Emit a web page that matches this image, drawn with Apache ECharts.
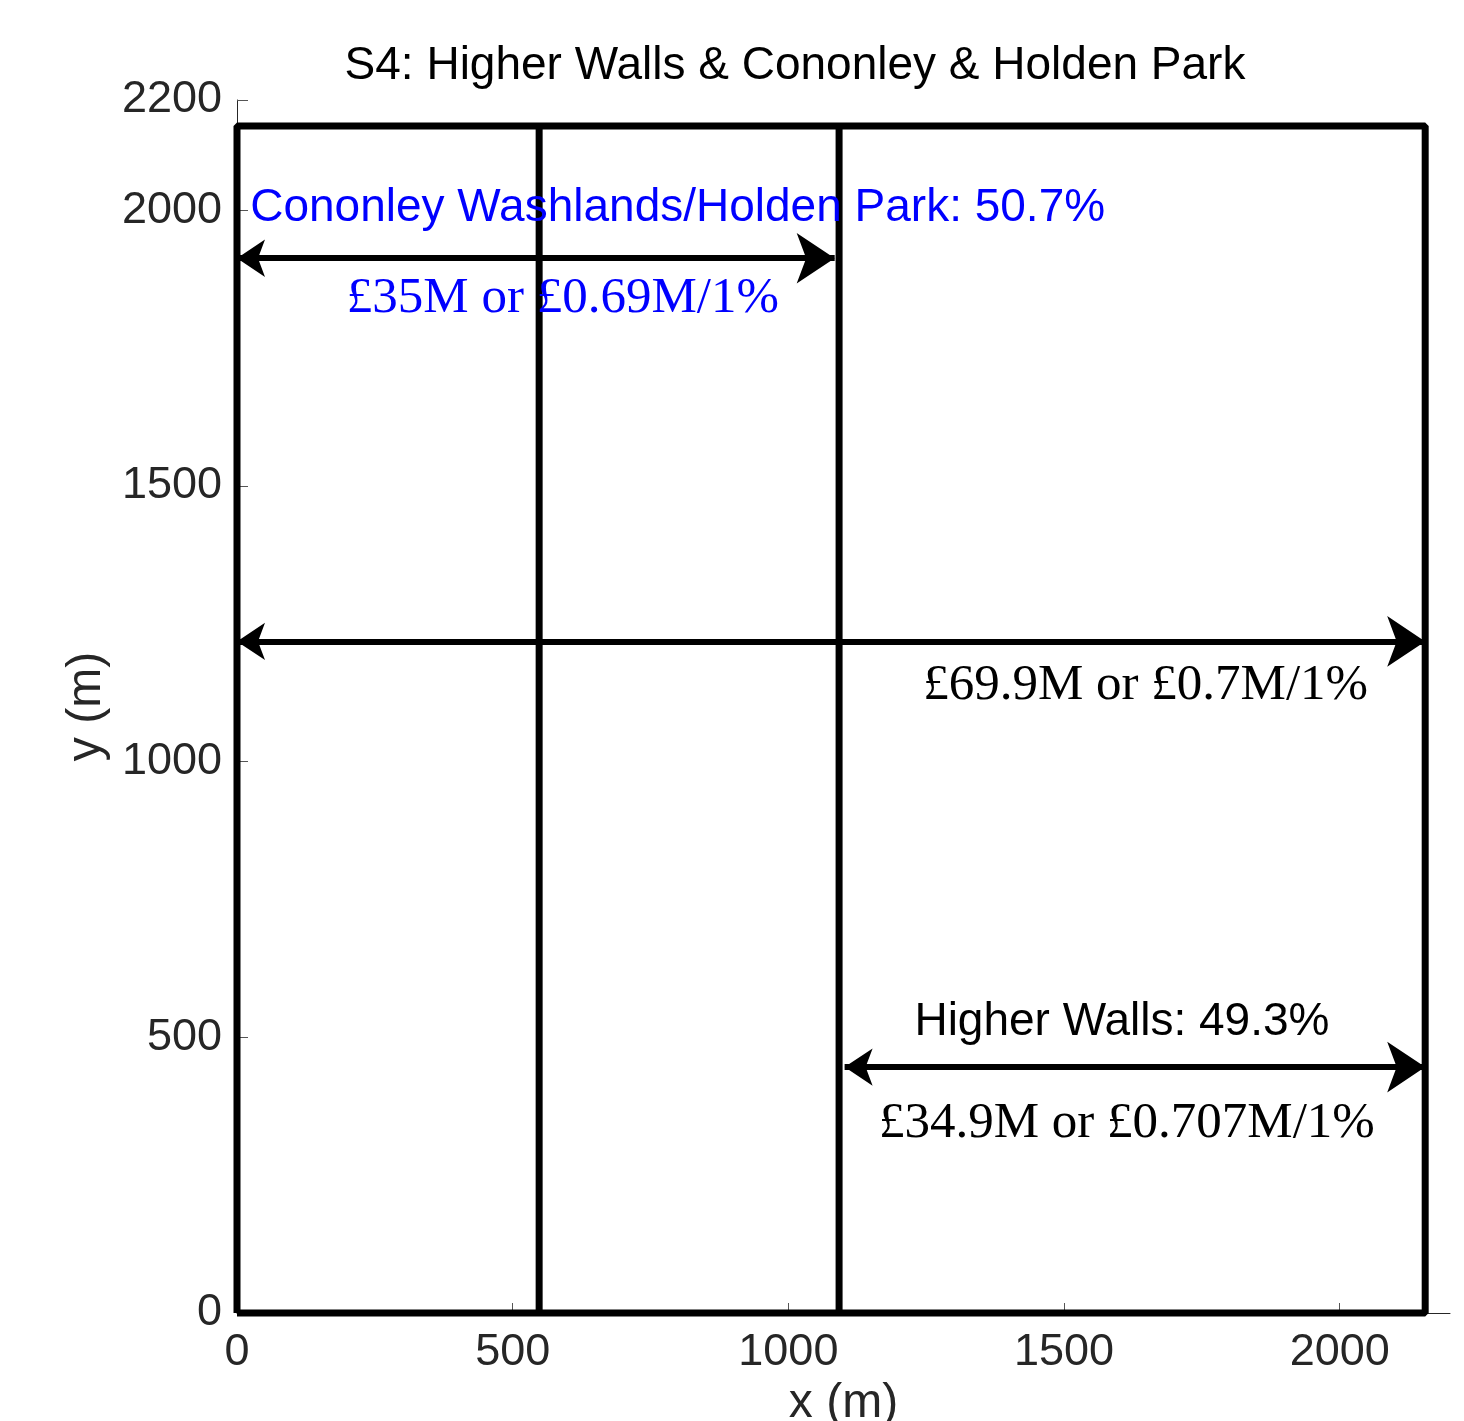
<!DOCTYPE html>
<html style="height: 100%">
  <head>
    <meta charset="utf-8" />
  </head>
  <body style="height: 100%; margin: 0; background: #fff">
    <div id="container" style="width: 1464px; height: 1421px"></div>

    <script src="https://cdn.jsdelivr.net/npm/echarts@6/dist/echarts.min.js"></script>
    <script type="text/javascript">
      // S4 scheme, all values in metres
      var titleText = "S4: Higher Walls & Cononley & Holden Park";
      var xTicks = [0, 500, 1000, 1500, 2000];
      var yTicks = [0, 500, 1000, 1500, 2000, 2200];

      // site outline + the two split lines
      var outlineX = [0, 2155, 2155, 0, 0];
      var outlineY = [0, 0, 2153, 2153, 0];
      var splitX = [548, 1092];
      var splitTop = 2153;

      // double headed arrows (tip to tip)
      var arrowFromX = [0, 0, 1102];
      var arrowToX = [1084, 2155, 2155];
      var arrowY = [1913, 1218, 446];

      // annotation texts and where they sit
      var noteText = [
        "Cononley Washlands/Holden Park: 50.7%",
        "£35M or £0.69M/1%",
        "£69.9M or £0.7M/1%",
        "Higher Walls: 49.3%",
        "£34.9M or £0.707M/1%",
      ];
      var noteX = [24, 591, 1648, 1605, 1614];
      var noteY = [2004, 1840, 1137, 528, 343];

      var SANS = "Liberation Sans";
      var SERIF = "Liberation Serif";
      var noteStyle = [
        { color: "#0000ff", fontFamily: SANS, fontSize: 46, align: "left" },
        { color: "#0000ff", fontFamily: SERIF, fontSize: 51, align: "center" },
        { color: "#000", fontFamily: SERIF, fontSize: 51, align: "center" },
        { color: "#000", fontFamily: SANS, fontSize: 46, align: "center" },
        { color: "#000", fontFamily: SERIF, fontSize: 51, align: "center" },
      ];

      var dom = document.getElementById("container");
      var myChart = echarts.init(dom);

      var series = [];

      series.push({
        type: "line",
        data: outlineX.map(function (x, i) {
          return [x, outlineY[i]];
        }),
        symbol: "none",
        clip: false,
        silent: true,
        lineStyle: { color: "#000", width: 7 },
        z: 3,
      });

      splitX.forEach(function (x) {
        series.push({
          type: "line",
          data: [
            [x, 0],
            [x, splitTop],
          ],
          symbol: "none",
          clip: false,
          silent: true,
          lineStyle: { color: "#000", width: 7 },
          z: 3,
        });
      });

      series.push({
        type: "lines",
        coordinateSystem: "cartesian2d",
        symbol: ["arrow", "arrow"],
        symbolSize: [28, 38],
        silent: true,
        lineStyle: { color: "#000", width: 6, opacity: 1, curveness: 0 },
        data: arrowY.map(function (y, i) {
          return {
            coords: [
              [arrowFromX[i], y],
              [arrowToX[i], y],
            ],
          };
        }),
        z: 4,
      });

      series.push({
        type: "scatter",
        symbolSize: 1,
        silent: true,
        itemStyle: { color: "transparent", opacity: 1 },
        data: noteText.map(function (t, i) {
          var s = noteStyle[i];
          return {
            value: [noteX[i], noteY[i]],
            label: {
              show: true,
              position: "inside",
              formatter: t,
              color: s.color,
              opacity: 1,
              fontFamily: s.fontFamily,
              fontSize: s.fontSize,
              align: s.align,
              verticalAlign: "middle",
            },
          };
        }),
        z: 5,
      });

      var axisText = {
        color: "#262626",
        fontFamily: SANS,
        fontSize: 45,
        formatter: function (v) {
          return String(v);
        },
      };

      var option = {
        animation: false,
        backgroundColor: "#fff",
        title: {
          text: titleText,
          left: 790,
          top: 38,
          textAlign: "center",
          textStyle: {
            color: "#000",
            fontFamily: SANS,
            fontSize: 46,
            fontWeight: "normal",
          },
        },
        grid: {
          left: 237,
          right: 14,
          top: 100,
          bottom: 108,
          containLabel: false,
          outerBoundsMode: "none",
        },
        xAxis: {
          type: "value",
          min: 0,
          max: 2200,
          interval: 500,
          name: "x (m)",
          nameLocation: "middle",
          nameGap: 58,
          nameTextStyle: { color: "#262626", fontFamily: SANS, fontSize: 48 },
          axisLine: { lineStyle: { color: "#262626", width: 1 } },
          axisTick: {
            inside: true,
            length: 10,
            customValues: xTicks,
            lineStyle: { color: "#555", width: 1 },
          },
          axisLabel: Object.assign({ margin: 17, customValues: xTicks }, axisText),
          splitLine: { show: false },
        },
        yAxis: {
          type: "value",
          min: 0,
          max: 2200,
          interval: 500,
          name: "y (m)",
          nameLocation: "middle",
          nameGap: 122,
          nameTextStyle: { color: "#262626", fontFamily: SANS, fontSize: 48 },
          axisLine: { lineStyle: { color: "#262626", width: 1 } },
          axisTick: {
            inside: true,
            length: 11,
            customValues: yTicks,
            lineStyle: { color: "#555", width: 1 },
          },
          axisLabel: Object.assign({ margin: 15, customValues: yTicks }, axisText),
          splitLine: { show: false },
        },
        series: series,
      };

      myChart.setOption(option);
    </script>
  </body>
</html>
